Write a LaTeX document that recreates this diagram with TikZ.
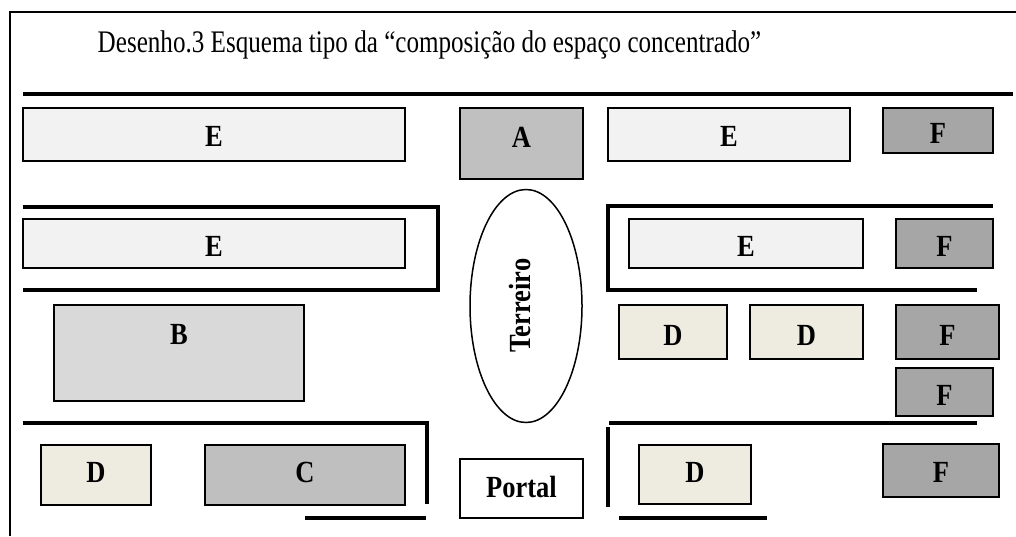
\documentclass[tikz,border=0pt]{standalone}
\usepackage{fontspec}
\setmainfont{Liberation Serif}
\usetikzlibrary{shapes.geometric}
\newcommand{\lbl}[1]{\scalebox{1}[1.16]{\bfseries #1}}
\tikzset{
  box/.style={draw=black, line width=1.8pt, inner sep=0pt},
  lab/.style={font=\fontsize{26.5}{30}\selectfont, inner sep=0pt},
  wall/.style={line width=4.5pt, line join=miter},
  frame/.style={line width=1.4pt},
}
% \bx{name}{cx}{cy}{w}{h}{fill}{text}{yshift}
\newcommand{\bx}[8]{\node[box, fill=#6, minimum width=#4pt, minimum height=#5pt,
  label={[lab, yshift=#8pt]center:\lbl{#7}}] (#1) at (#2,#3) {};}
\definecolor{cE}{HTML}{F2F2F2}
\definecolor{cA}{HTML}{C0C0C0}
\definecolor{cB}{HTML}{D9D9D9}
\definecolor{cC}{HTML}{BFBFBF}
\definecolor{cD}{HTML}{EEECE1}
\definecolor{cF}{HTML}{A6A6A6}
\begin{document}
\begin{tikzpicture}[x=1pt,y=-1pt]
\useasboundingbox (0,0) rectangle (1016,536);
% frame
\draw[frame] (10,536) -- (10,12) -- (1016,12);
% title
\node[anchor=base, inner sep=0pt, font=\fontsize{25.1}{30}\selectfont] (title) at (429.5,52) {\scalebox{1}[1.25]{Desenho.3 Esquema tipo da “composição do espaço concentrado”}};
% walls
\draw[wall] (23,94) -- (1013,94);
\draw[wall] (23,207) -- (438,207) -- (438,290) -- (23,290);
\draw[wall] (993,206) -- (608,206) -- (608,290) -- (977,290);
\draw[wall] (23,423) -- (427,423) -- (427,504);
\draw[wall] (305,518) -- (426,518);
\draw[wall] (609,423) -- (977,423);
\draw[wall] (608,427) -- (608,507);
\draw[wall] (619,518) -- (767,518);
% row 1
\bx{E1}{214}{134.5}{382}{53}{cE}{E}{-2}
\bx{A}{521.5}{143.5}{123}{71}{cA}{A}{6.5}
\bx{E2}{729}{134.5}{242}{53}{cE}{E}{-2}
\bx{F1}{938}{130.5}{110}{45}{cF}{F}{-2.5}
% row 2
\bx{E3}{214}{243.5}{382}{49}{cE}{E}{-2.5}
\bx{E4}{746}{243.5}{234}{49}{cE}{E}{-2.5}
\bx{F2}{944.5}{243.5}{97}{49}{cF}{F}{-2.5}
% terreiro
\node[draw, line width=1.5pt, ellipse, minimum width=112pt, minimum height=233pt, inner sep=0pt] (T) at (526,306) {};
\node[lab, rotate=90] (Tl) at (519.5,305.5) {\lbl{Terreiro}};
% row 3
\bx{B}{179}{353}{250}{96}{cB}{B}{19}
\bx{D1}{673}{332}{108}{54}{cD}{D}{-3}
\bx{D2}{806.5}{332}{113}{54}{cD}{D}{-3}
\bx{F3}{947.5}{332}{103}{54}{cF}{F}{-3.5}
\bx{F4}{944.5}{392}{97}{48}{cF}{F}{-3}
% row 4
\bx{D3}{96}{475}{110}{60}{cD}{D}{3}
\bx{C}{305}{475}{200}{60}{cC}{C}{3}
\bx{P}{521.5}{488.5}{123}{59}{white}{Portal}{1.5}
\bx{D4}{695}{474.5}{112}{59}{cD}{D}{2.5}
\bx{F5}{941}{470.5}{116}{53}{cF}{F}{-1.5}
\end{tikzpicture}
\end{document}
